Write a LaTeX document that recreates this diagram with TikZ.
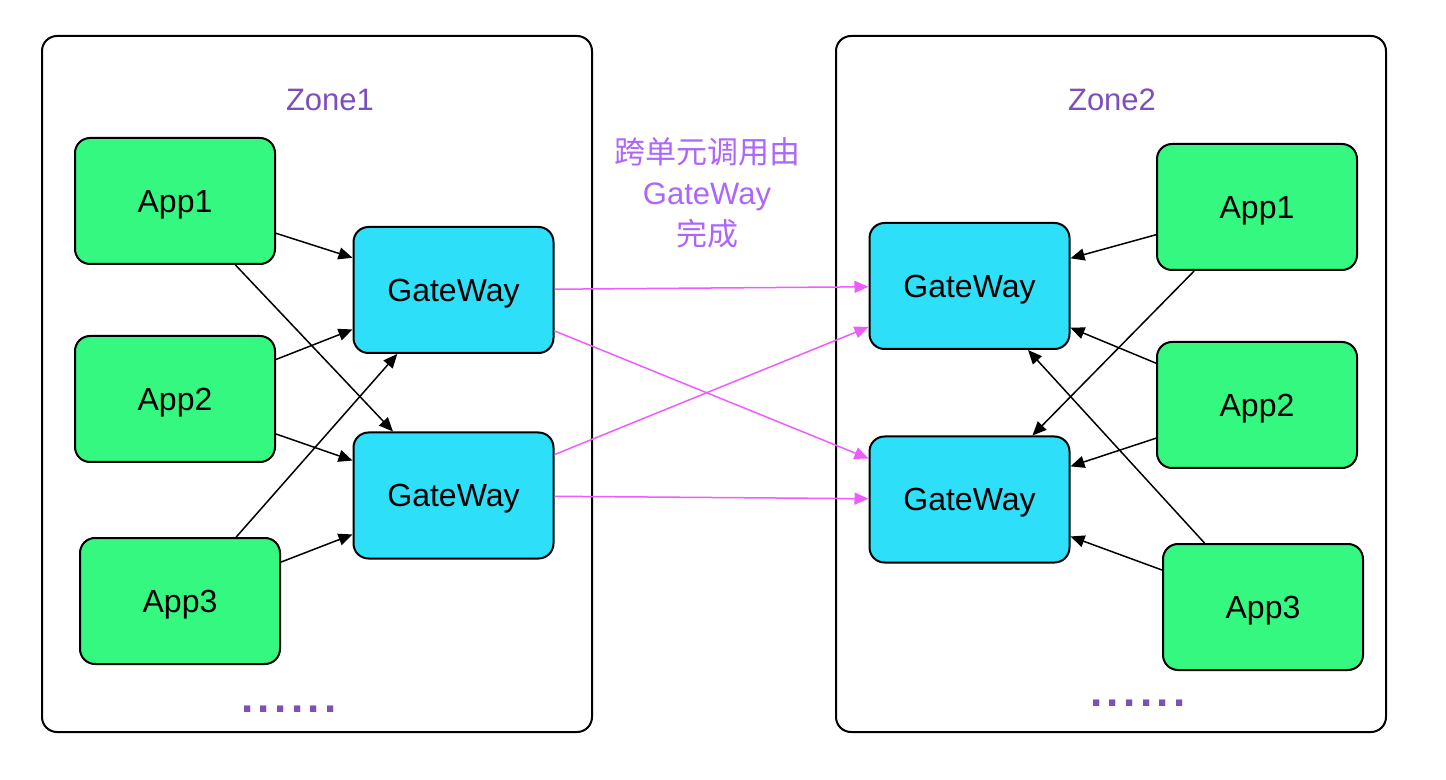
\documentclass[tikz,border=0pt]{standalone}
\usepackage{fontspec}
\setmainfont{Liberation Sans}
\newfontfamily\cjk{Noto Sans CJK SC}
\usetikzlibrary{arrows.meta}
\definecolor{appgreen}{RGB}{52,248,127}
\definecolor{gwcyan}{RGB}{45,223,248}
\definecolor{zonepurple}{RGB}{125,78,190}
\definecolor{notepurple}{RGB}{172,102,252}
\definecolor{linkpink}{RGB}{238,92,255}
\newcommand{\dotrow}{\foreach \i in {1,...,6}{\makebox[8.35pt]{.}}}

\begin{document}
\begin{tikzpicture}
  [x=0.5pt,y=-0.5pt,
    every node/.style={font=\fontsize{15.5}{20.5}\selectfont},
    zone/.style={draw,line width=1pt,rounded corners=7.5pt,minimum width=275pt,minimum height=348pt},
    app/.style={draw,line width=1pt,rounded corners=7.5pt,fill=appgreen,minimum width=100pt,minimum height=63pt,
                font=\fontsize{16}{20}\selectfont,text depth=0pt},
    gw/.style={app,fill=gwcyan},
    zonelabel/.style={text=zonepurple},
    dots/.style={text=zonepurple,anchor=base,font=\fontsize{22}{22}\selectfont\bfseries},
    call/.style={-{Triangle[length=7pt,width=6pt]},line width=0.75pt},
    link/.style={call,draw=linkpink,fill=linkpink}]
  \useasboundingbox (0,0) rectangle (1446,780);
  % zones
  \node[zone] (z1) at (317,384) {};
  \node[zone] (z2) at (1111,384) {};
  \node[zonelabel] (z1l) at (330,100) {Zone1};
  \node[zonelabel] (z2l) at (1112,100) {Zone2};
  \node[dots] (z1d) at (289,712) {\dotrow};
  \node[dots] (z2d) at (1138,706) {\dotrow};
  % zone 1
  \node[app] (la1) at (175,201) {App1};
  \node[app] (la2) at (175,399) {App2};
  \node[app] (la3) at (180,601) {App3};
  \node[gw] (lg1) at (453.5,290) {GateWay};
  \node[gw] (lg2) at (453.5,495.5) {GateWay};
  % zone 2
  \node[gw] (rg1) at (969.5,286) {GateWay};
  \node[gw] (rg2) at (969.5,499.5) {GateWay};
  \node[app] (ra1) at (1257,207) {App1};
  \node[app] (ra2) at (1257,405) {App2};
  \node[app] (ra3) at (1263,607) {App3};
  \node[text=notepurple,align=center] (note) at (707,193) {\cjk{跨单元调用由}\\GateWay\\\cjk{完成}};
  \foreach \from/\to in {la1/lg1,la1/lg2,la2/lg1,la2/lg2,la3/lg1,la3/lg2,
                         ra1/rg1,ra1/rg2,ra2/rg1,ra2/rg2,ra3/rg1,ra3/rg2}
    \draw[call] (\from) -- (\to);
  \foreach \from/\to in {lg1/rg1,lg1/rg2,lg2/rg1,lg2/rg2}
    \draw[link] (\from) -- (\to);
\end{tikzpicture}
\end{document}
